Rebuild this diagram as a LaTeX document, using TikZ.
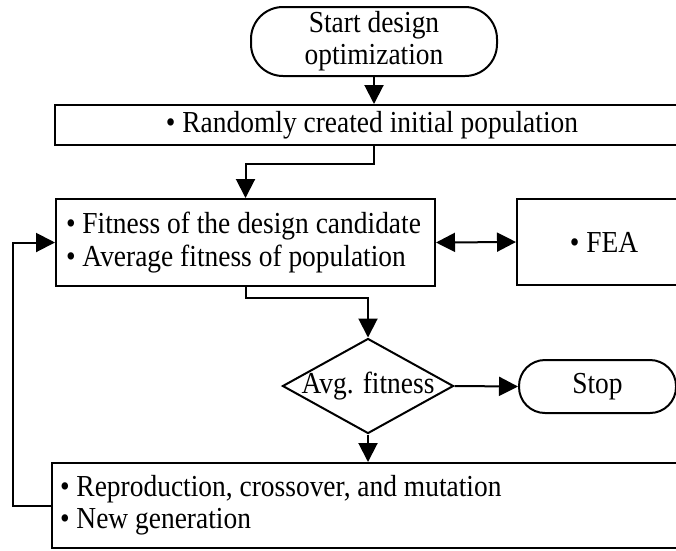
\documentclass[tikz,border=0pt]{standalone}
\usepackage{fontspec}
\setmainfont{Liberation Serif}[FakeStretch=0.9]
\usetikzlibrary{shapes.geometric,arrows.meta}
\tikzset{
  line/.style={line width=2pt},
  arr/.style={line,->},
  proc/.style={draw,line width=2pt,inner sep=0pt},
  term/.style={draw,line width=2pt,inner sep=0pt,rounded corners=26pt,align=center},
  decide/.style={draw,diamond,line width=2pt,inner sep=0pt,inner xsep=-8pt,aspect=1.8,
    minimum width=171pt,minimum height=95pt}
}
\begin{document}
\begin{tikzpicture}[x=1pt,y=-1pt,>={Triangle[length=19pt,width=19pt]},
  font=\fontsize{30.5}{32}\selectfont]
\clip (0,0) rectangle (676,550);

% blocks
\node [term,rounded corners=32pt,minimum width=246pt,minimum height=69pt] (start) at (374,41.5) {Start design\\optimization};
\node [proc,minimum width=634pt,minimum height=40pt] (rand) at (372,125) {\textbullet\ Randomly created initial population};
\node [proc,inner xsep=10pt,text width=359pt,align=flush left,minimum height=87pt] (fit) at (245.5,242.5)
  {\textbullet\ Fitness of the design candidate\\[1pt]\textbullet\ Average fitness of population};
\node [proc,minimum width=174pt,minimum height=86pt] (fea) at (604,242) {\textbullet\ FEA};
\node [decide] (avg) at (368,386) {Avg. fitness};
\node [term,minimum width=157pt,minimum height=53pt] (stop) at (597.5,386.5) {Stop};
\node [proc,inner xsep=8pt,text width=620pt,align=flush left,minimum height=85pt] (gen) at (370,505.5)
  {\textbullet\ Reproduction, crossover, and mutation\\\textbullet\ New generation};

% connectors
\draw [arr] (start.south) -- (start.south |- rand.north);
\draw [arr] (start.south |- rand.south) -- ++(0,18) -| (fit.north);
\draw [line,<->] (fit.east) -- (fea.west);
\draw [arr] (fit.south) -- ++(0,11) -| (avg.north);
\draw [arr] (avg.east) -- (stop.west);
\draw [arr] (avg.south) -- (avg.south |- gen.north);
\draw [arr] (gen.west) -- ++(-38,0) |- (fit.west);
\end{tikzpicture}
\end{document}
